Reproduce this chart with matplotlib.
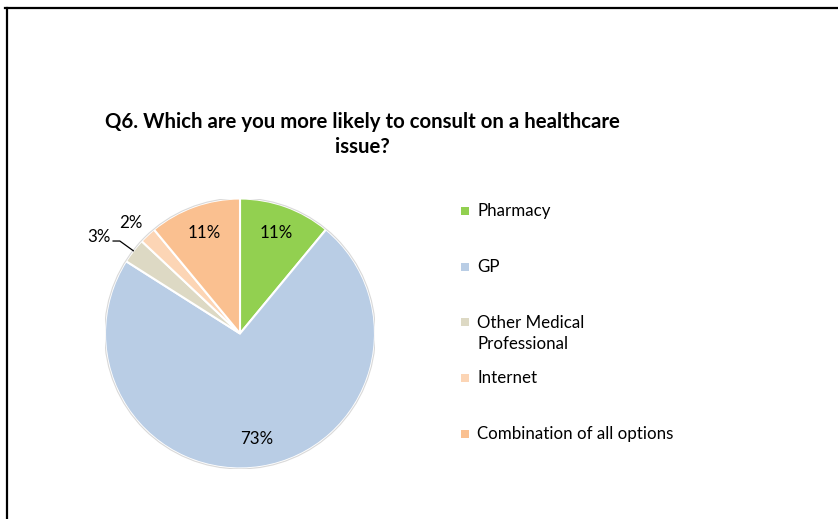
import matplotlib
matplotlib.use("Agg")
import matplotlib.pyplot as plt
from matplotlib.patches import Rectangle
from matplotlib.lines import Line2D
import numpy as np

plt.rcParams['font.family'] = ['Lato', 'DejaVu Sans']

categories = ["Pharmacy", "GP", "Other Medical\nProfessional", "Internet", "Combination of all options"]
values = [11, 73, 3, 2, 11]
colors = ["#92D050", "#B9CDE5", "#DDD9C4", "#FCD5B5", "#FAC090"]
title = "Q6. Which are you more likely to consult on a healthcare\nissue?"

W, H = 838, 519
fig = plt.figure(figsize=(W / 100, H / 100), dpi=100)

# pie centre (240, 333) px, radius 135 px
cx, cy, r = 240, 333.5, 135
ax = fig.add_axes([(cx - r) / W, (H - cy - r) / H, 2 * r / W, 2 * r / H])

wedges, _ = ax.pie(values, colors=colors, startangle=90, counterclock=False,
                   radius=1, wedgeprops=dict(edgecolor="white", linewidth=1.5))
# faint grey rim round the whole pie
ax.add_patch(plt.Circle((0, 0), 1.003, fill=False, edgecolor="#D9D9D9", lw=0.8))
ax.set_xlim(-1, 1)
ax.set_ylim(-1, 1)
ax.set_aspect("equal")
ax.axis("off")

fs = 12.2
# labels
total = sum(values)
cum = np.cumsum([0] + values)
for i, v in enumerate(values):
    mid = 90 - (cum[i] + v / 2) / total * 360
    a = np.deg2rad(mid)
    if v >= 5:
        ax.text(0.79 * np.cos(a), 0.79 * np.sin(a), f"{v}%", ha="center", va="center",
                fontsize=fs)
    elif categories[i] == "Internet":
        b = np.deg2rad(mid + 1.5)
        ax.text(1.15 * np.cos(b), 1.15 * np.sin(b), f"{v}%", ha="center", va="center",
                fontsize=fs)
    else:
        ex, ey = np.cos(a), np.sin(a)
        ax.plot([ex, -0.89, -0.94], [ey, 0.685, 0.685], color="black", lw=0.9,
                clip_on=False)
        ax.text(-0.96, 0.715, f"{v}%", ha="right", va="center", fontsize=fs)

fig.text(362 / W, 1 - 134.5 / H, title, ha="center", va="center", fontsize=14.7,
         fontweight="bold", linespacing=1.3)

# legend
rows = [211, 267, 322, 378, 434]
for lab, col, y in zip(categories, colors, rows):
    s = 8
    fig.add_artist(Rectangle(((465 - s / 2) / W, 1 - (y + s / 2) / H), s / W, s / H,
                             transform=fig.transFigure, facecolor=col, edgecolor="none"))
    if "\n" in lab:
        fig.text(477 / W, 1 - (y - 7) / H, lab, ha="left", va="top",
                 fontsize=fs, linespacing=1.35)
    else:
        fig.text(477 / W, 1 - y / H, lab, ha="left", va="center", fontsize=fs)

# frame
fig.add_artist(Line2D([5 / W, 1], [1 - 8 / H, 1 - 8 / H], color="black", lw=1.6,
                      transform=fig.transFigure))
fig.add_artist(Line2D([7 / W, 7 / W], [1 - 8 / H, 0], color="black", lw=1.6,
                      transform=fig.transFigure))

fig.savefig("out.png", dpi=100, facecolor="white")
